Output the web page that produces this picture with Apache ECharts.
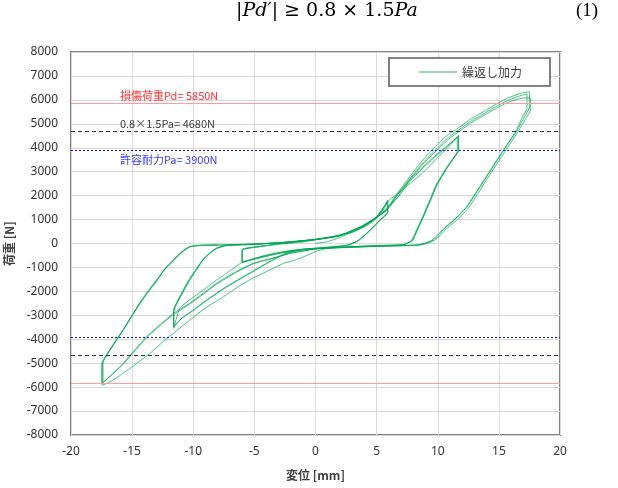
<!DOCTYPE html>
<html><head><meta charset="utf-8">
<script src="https://cdn.jsdelivr.net/npm/echarts@6/dist/echarts.min.js"></script>
<style>html,body{margin:0;padding:0;background:#fff}#c{width:618px;height:488px}</style>
</head><body><div id="c"></div>
<script>
// ---- data (displacement [mm], load [N]) ----
const seriesName = '繰返し加力';
const xTicks = [-20, 20, 5];
const yTicks = [-8000, 8000, 1000];
const refLevels = [5850, 4680, 3900, -3900, -4680, -5850];
const refTexts = ['損傷荷重Pd= 5850N', '0.8×1.5Pa= 4680N', '許容耐力Pa= 3900N'];

const smallCycle1 = [[0,0],[1,80],[2,250],[3,470],[4,690],[4.8,960],[5.4,1350],[5.9,1810],[5.9,1320],[5.3,980],[4.5,560],[3.6,150],[2.8,-60],[1.5,-130],[0,-190],[-1.5,-260],[-3,-380],[-4.5,-560],[-6,-800],[-6,-280],[-4.5,-130]];
const smallCycle2 = [[-3,-20],[-1.5,80],[0,170],[1.5,290],[2.8,470],[3.8,700],[4.8,1000],[5.4,1400],[5.9,1760],[5.9,1300],[5.2,940],[4.4,520],[3.5,120],[2.6,-70],[1,-160],[0,-210],[-1.5,-280],[-3,-400],[-4.5,-580],[-6,-780],[-6,-260],[-4.5,-120]];
const smallCycle3 = [[-3,-10],[-1.5,90],[0,180],[1.5,300],[3,490],[4,730],[4.9,1050],[5.5,1450],[5.9,1740],[5.9,1290],[5.1,900],[4.3,480],[3.4,100],[2.5,-80],[1,-170],[0,-220],[-1.5,-290],[-3,-420],[-4.5,-600],[-6,-770],[-6,-250],[-4.5,-120]];
const midCycle1 = [[-3,-30],[-1,60],[0,160],[1.5,280],[3,470],[4,720],[5,1080],[5.6,1450],[5.9,1750],[6.9,2160],[7.7,2500],[8.55,2850],[9.4,3270],[10.2,3690],[11.0,4100],[11.7,4520],[11.7,3900],[11.2,3500],[10.7,3130],[9.9,2440],[9.5,1950],[9.1,1470],[8.8,1100],[8.5,770],[8.2,420],[8.0,150],[7.3,-40],[6,-70],[4,-110],[2,-160],[0,-210],[-2,-300],[-4,-480],[-6,-790],[-7.3,-1250],[-8.3,-1600],[-9.2,-1950],[-10.2,-2320],[-11.1,-2700],[-11.6,-3540],[-11.6,-2840],[-11.0,-2200],[-10.3,-1550],[-9.7,-1080],[-9.2,-700],[-8.6,-400],[-8.1,-220],[-7.3,-90],[-5,-40]];
const midCycle2 = [[-3,40],[0,170],[2,340],[3.7,700],[4.8,1030],[5.8,1420],[6.8,2000],[7.7,2650],[8.7,3150],[9.65,3600],[10.7,4060],[11.7,4480],[11.7,3880],[11.2,3480],[10.7,3100],[9.9,2400],[9.5,1900],[9.1,1430],[8.8,1070],[8.5,740],[8.2,400],[7.9,120],[7.2,-50],[5,-90],[3,-130],[1,-180],[-1,-240],[-2.5,-420],[-3.5,-680],[-4.5,-967],[-5.9,-1380],[-7.3,-1800],[-8.7,-2280],[-10,-2770],[-11,-3150],[-11.6,-3500],[-11.6,-2800],[-11.0,-2150],[-10.3,-1500],[-9.7,-1050],[-9.2,-680],[-8.6,-380],[-8.1,-200],[-7.3,-80],[-5,-30]];
const midCycle3 = [[-3,30],[0,160],[2,330],[3.7,690],[4.8,1010],[5.8,1390],[6.8,1970],[7.7,2600],[8.7,3100],[9.65,3560],[10.7,4020],[11.6,4440],[11.6,3850],[11.1,3450],[10.6,3080],[9.8,2380],[9.4,1880],[9.0,1400],[8.7,1040],[8.4,720],[8.1,380],[7.8,100],[7.1,-60],[5,-100],[3,-140],[1,-190],[-1,-250],[-2.5,-440],[-3.5,-700],[-4.5,-990],[-5.9,-1410],[-7.3,-1830],[-8.7,-2310],[-10,-2800],[-11,-3150],[-11.6,-3450],[-11.6,-2780],[-11.0,-2120],[-10.3,-1470],[-9.7,-1030],[-9.2,-660],[-8.6,-370],[-8.1,-190],[-7.3,-70],[-5,-20]];
const largeCycle1 = [[-3,30],[0,165],[2,330],[3.7,700],[4.8,1050],[5.8,1450],[6.7,2100],[7.7,2785],[8.8,3500],[9.9,4104],[10.8,4530],[11.8,4867],[12.7,5200],[13.7,5492],[14.7,5800],[15.6,6049],[16.8,6280],[17.5,6340],[17.5,5700],[17.1,5300],[16.5,4729],[15.4,3896],[14.0,2785],[13.2,2150],[12.4,1533],[11.5,1050],[10.7,700],[10.1,380],[9.65,146],[9.0,10],[8.3,-60],[6,-100],[3,-150],[1.2,-180],[0.2,-300],[-0.8,-520],[-1.7,-700],[-2.6,-826],[-4.0,-1170],[-5.4,-1521],[-6.5,-1870],[-7.5,-2215],[-8.4,-2500],[-9.2,-2771],[-10.4,-3250],[-11.6,-3743],[-12.6,-4160],[-13.5,-4576],[-14.6,-5000],[-15.7,-5410],[-16.6,-5720],[-17.4,-5920],[-17.4,-5000],[-16.6,-4300],[-15.7,-3604],[-15.0,-3020],[-14.4,-2492],[-13.7,-1980],[-13,-1521],[-12.3,-1050],[-11.6,-688],[-11.0,-380],[-10.3,-132],[-9.5,-80],[-8,-60],[-5,-20]];
const largeCycle2 = [[-2,60],[0,170],[2,340],[3.7,690],[4.8,1030],[5.8,1400],[6.7,2050],[7.7,2700],[8.8,3380],[9.9,3950],[10.8,4400],[11.8,4780],[12.7,5100],[13.7,5400],[14.7,5700],[15.6,5950],[16.8,6180],[17.3,6250],[17.3,5650],[16.9,5250],[16.4,4700],[15.3,3850],[13.9,2750],[13.1,2120],[12.3,1500],[11.4,1020],[10.6,680],[10.0,360],[9.5,130],[8.9,0],[8.2,-70],[5,-110],[2,-170],[0,-220],[-1,-310],[-2.1,-410],[-3.6,-620],[-5.1,-826],[-6.6,-1200],[-8.1,-1660],[-9.2,-2080],[-10.3,-2493],[-11.6,-2910],[-12.7,-3380],[-13.8,-3883],[-14.8,-4450],[-15.7,-4993],[-16.7,-5500],[-17.5,-5880],[-17.5,-5050],[-16.7,-4330],[-15.8,-3650],[-15.1,-3070],[-14.4,-2550],[-13.7,-2040],[-13,-1580],[-12.4,-1110],[-11.7,-720],[-11.1,-410],[-10.4,-150],[-9.5,-90],[-8,-70],[-5,-30]];
const largeCycle3 = [[-2,50],[0,160],[2,320],[3.7,680],[4.8,1010],[5.8,1380],[6.7,2020],[7.7,2650],[8.8,3320],[9.9,3880],[10.8,4320],[11.8,4700],[12.7,5030],[13.7,5330],[14.7,5620],[15.6,5870],[17.0,6080],[17.6,6080],[17.6,5600],[17.2,5220],[16.6,4700],[15.5,3850],[14.1,2750],[13.3,2100],[12.5,1480],[11.6,1000],[10.8,660],[10.2,340],[9.7,120],[9.1,-10],[8.3,-80],[5,-120],[2,-180],[0,-230],[-1,-320],[-2.1,-420],[-3.6,-640],[-5.1,-850],[-6.6,-1240],[-8.1,-1700],[-9.2,-2120],[-10.3,-2540],[-11.6,-2960],[-12.7,-3420],[-13.8,-3930],[-14.8,-4500],[-15.7,-5030],[-16.6,-5450],[-17.4,-5800],[-17.4,-5000],[-16.6,-4280],[-15.7,-3580],[-15.0,-3000],[-14.3,-2450],[-13.6,-1950],[-12.9,-1480],[-12.2,-1020],[-11.5,-660],[-10.9,-360],[-10.2,-120],[-9.4,-70],[-8,-60]];

const path = [].concat(smallCycle1, smallCycle2, smallCycle3, midCycle1, midCycle2, midCycle3, largeCycle1, largeCycle2, largeCycle3);

const refStyles = [
  {color:'#ff9c9c', type:'solid'},
  {color:'#303030', type:[4,3]},
  {color:'#1010ff', type:[2,2]}
];
const textColors = ['#ff3030', '#404040', '#3a3aff'];

const chart = echarts.init(document.getElementById('c'), null, {renderer:'canvas'});
const labelFont = '"Noto Sans", "Liberation Sans", sans-serif';
const cjkFont = '"Noto Sans CJK JP", "Noto Sans", sans-serif';

const markData = refLevels.map(v => {
  const idx = [5850,4680,3900].indexOf(Math.abs(v));
  return {yAxis: v, lineStyle: {color: refStyles[idx].color, type: refStyles[idx].type, width: 1}};
});

chart.setOption({
  animation: false,
  backgroundColor: '#fff',
  grid: {left: 71, right: 58, top: 52, bottom: 53, show: true, borderColor: '#808080', borderWidth: 2,
         backgroundColor: 'transparent', containLabel: false, outerBoundsMode: 'none'},
  legend: {
    data: [{name: seriesName, icon: 'rect'}], right: 68, top: 58,
    backgroundColor: '#fff', borderColor: '#808080', borderWidth: 2,
    padding: [7, 28, 7, 30], itemWidth: 38, itemHeight: 1.2, itemGap: 6,
    itemStyle: {color: '#2db56a'},
    textStyle: {fontFamily: cjkFont, fontSize: 12, color: '#404040', lineHeight: 14}
  },
  xAxis: {
    type: 'value', min: xTicks[0], max: xTicks[1], interval: xTicks[2],
    axisLine: {show: false}, axisTick: {show: false},
    splitLine: {lineStyle: {color: '#d9d9d9', width: 1}},
    axisLabel: {color: '#333', fontFamily: labelFont, fontSize: 12, margin: 11, formatter: v => String(v)},
    name: '変位 [mm]', nameLocation: 'middle', nameGap: 34,
    nameTextStyle: {fontFamily: cjkFont, fontWeight: 'bold', fontSize: 12, color: '#404040'}
  },
  yAxis: {
    type: 'value', min: yTicks[0], max: yTicks[1], interval: yTicks[2],
    axisLine: {show: false}, axisTick: {show: false},
    splitLine: {lineStyle: {color: '#d9d9d9', width: 1}},
    axisLabel: {color: '#333', fontFamily: labelFont, fontSize: 12, margin: 13, formatter: v => String(v)},
    name: '荷重 [N]', nameLocation: 'middle', nameGap: 51, nameRotate: 90,
    nameTextStyle: {fontFamily: cjkFont, fontWeight: 'bold', fontSize: 12, color: '#404040'}
  },
  series: [{
    name: seriesName, type: 'line', data: path, showSymbol: false, symbol: 'none',
    smooth: 0.15, smoothMonotone: 'none',
    color: '#2db56a',
    lineStyle: {color: 'rgba(0,168,80,0.72)', width: 1},
    markLine: {silent: true, symbol: 'none', label: {show: false}, data: markData}
  }]
});

// reference-line texts placed from data coordinates
const gfx = [];
refTexts.forEach((t, i) => {
  const p = chart.convertToPixel({gridIndex: 0}, [-16, refLevels[i]]);
  const below = i === 2;
  gfx.push({type: 'text', x: p[0], y: below ? p[1] + 4 : p[1] - 2,
    style: {text: t, fill: textColors[i], font: '11px ' + cjkFont, textVerticalAlign: below ? 'top' : 'bottom'}});
});
// formula header
gfx.push({type: 'text', left: 236, top: 2, style: {
  rich: {
    s: {fontFamily: '"DejaVu Serif", serif', fontSize: 19, fill: '#000'},
    i: {fontFamily: '"DejaVu Serif", serif', fontSize: 19, fontStyle: 'italic', fill: '#000'}
  },
  text: '{s||}{i|Pd′}{s|| ≥ 0.8 × 1.5}{i|Pa}'
}});
gfx.push({type: 'text', left: 576, top: 2, style: {text: '(1)', font: '19px "Liberation Serif", serif', fill: '#000'}});
chart.setOption({graphic: gfx});
</script></body></html>
